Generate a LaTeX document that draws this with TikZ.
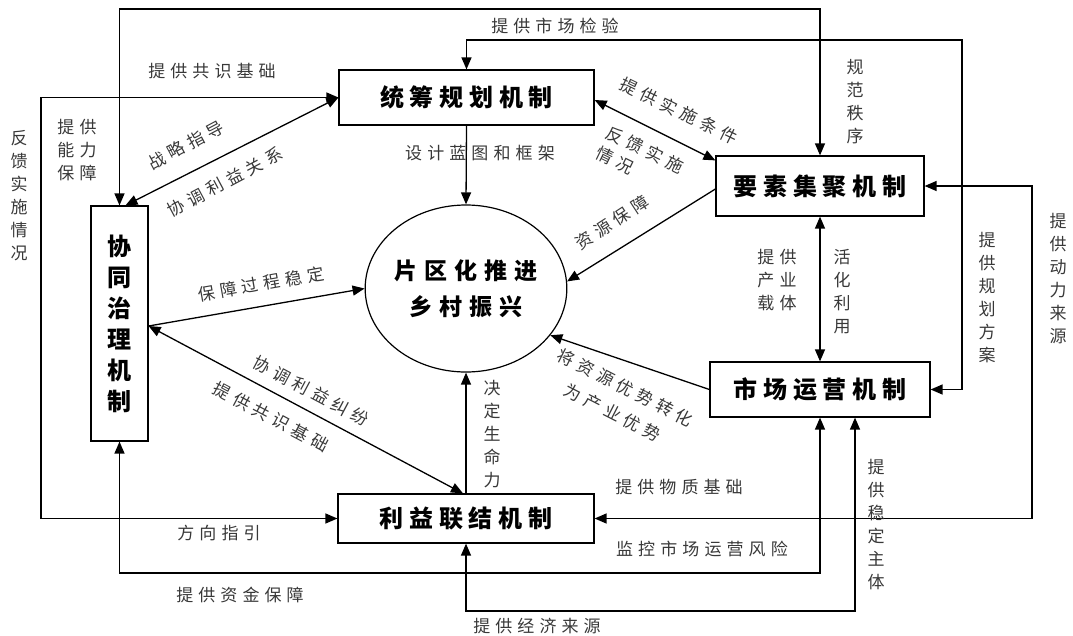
\documentclass[tikz,border=0pt]{standalone}
\usepackage{fontspec}
\usetikzlibrary{arrows.meta,shapes.geometric,calc}
\newfontfamily\lblfont[LetterSpace=30]{Noto Sans CJK SC}
\newfontfamily\boxfontfam[LetterSpace=24]{Noto Sans CJK SC}
\newfontfamily\cirfontfam[LetterSpace=30]{Noto Sans CJK SC}
\newfontfamily\vfont{Noto Sans CJK SC}
\begin{document}
\begin{tikzpicture}[x=1pt,y=-1pt,
  mech/.style={draw, line width=1.2pt, inner sep=0pt, font=\boxfontfam\bfseries\fontsize{24}{30}\selectfont},
  lbl/.style={inner sep=0pt, text=black!78, font=\lblfont\fontsize{17}{23}\selectfont},
  vlbl/.style={inner sep=0pt, text=black!78, align=center, font=\vfont\fontsize{17}{23}\selectfont},
  con/.style={line width=1.3pt},
  arr/.style={con, -{Triangle[length=12pt,width=10pt]}},
  bi/.style={con, {Triangle[length=12pt,width=10pt]}-{Triangle[length=12pt,width=10pt]}},
]
\useasboundingbox (0,0) rectangle (1073,635);

% mechanisms
\node[mech, minimum width=255pt, minimum height=55pt] (tc) at (466.5,97.5) {统筹规划机制};
\node[mech, minimum width=208pt, minimum height=60pt] (ys) at (820,186) {要素集聚机制};
\node[mech, minimum width=220pt, minimum height=55pt] (sc) at (820,389.5) {市场运营机制};
\node[mech, minimum width=256pt, minimum height=49pt] (lj) at (466,518.5) {利益联结机制};
\node[draw, line width=1.2pt, inner sep=0pt, minimum width=57pt, minimum height=235pt, align=center,
      font=\vfont\bfseries\fontsize{24}{31}\selectfont] (xt) at (119.5,323.5) {协\\同\\治\\理\\机\\制};
\node[ellipse, draw, line width=1.2pt, inner sep=0pt, minimum width=198pt, minimum height=167pt, align=center,
      font=\cirfontfam\bfseries\fontsize{23}{36}\selectfont] (cir) at (466,288.5) {片区化推进\\乡村振兴};

% outer loops
\draw[bi] (xt.north) |- (ys.north |- 0,9) -- (ys.north);
\draw[bi] (tc.north) |- (962,40) |- (sc.east);
\draw[bi] (tc.west) -| (41,300) |- (lj.west);
\draw[bi] (xt.south) |- (sc.south |- 0,573) -- (sc.south);
\coordinate (sb) at ($(sc.south)+(35,0)$);
\draw[bi] (lj.south) |- (sb |- 0,611) -- (sb);
\draw[bi] (ys.east) -| (1032,400) |- (lj.east);

% inner connectors
\draw[arr] (tc.south) -- (cir.north);
\draw[arr] (lj.north) -- (cir.south);
\draw[bi] ($(xt.north)+(6,0)$) -- (tc.west);
\draw[bi] ($(tc.east)+(0,2.5)$) -- ($(ys.north west)+(0,5)$);
\draw[arr] ($(ys.west)+(0,3)$) -- (cir.4);
\draw[bi] (ys.south) -- (sc.north);
\draw[arr] (sc.west) -- (cir.-29);
\coordinate (xr) at ($(xt.east)+(0,2.5)$);
\draw[arr] (xr) -- (cir.west);
\draw[bi] (xr) -- ($(lj.north)+(-3,0)$);

% labels
\node[lbl] (l1) at (555,26) {提供市场检验};
\node[lbl] (l2) at (212,71) {提供共识基础};
\node[vlbl] (l3) at (855,101.5) {规\\范\\秩\\序};
\node[lbl, align=center] (l4) at (77,150) {提供\\能力\\保障};
\node[vlbl] (l5) at (19,195.5) {反\\馈\\实\\施\\情\\况};
\node[lbl, rotate=28] (l6) at (186,145) {战略指导};
\node[lbl, rotate=28] (l7) at (225,182) {协调利益关系};
\node[lbl] (l8) at (480,153) {设计蓝图和框架};
\node[lbl, rotate=-26] (l9) at (679,111) {提供实施条件};
\node[lbl, rotate=-26, align=left] (l10) at (640,160) {反馈实施\\情况};
\node[lbl, rotate=33] (l11) at (612,222) {资源保障};
\node[lbl, align=center] (l12) at (777,280) {提供\\产业\\载体};
\node[vlbl] (l13) at (842,291.5) {活\\化\\利\\用};
\node[vlbl] (l14) at (987,298) {提\\供\\规\\划\\方\\案};
\node[vlbl] (l15) at (1058,278.5) {提\\供\\动\\力\\来\\源};
\node[lbl, rotate=10] (l16) at (261,284) {保障过程稳定};
\node[lbl, rotate=-28] (l17) at (311,391) {协调利益纠纷};
\node[lbl, rotate=-28] (l18) at (271,417) {提供共识基础};
\node[lbl, rotate=-27, align=center, font=\lblfont\fontsize{17}{28}\selectfont] (l19) at (619,400) {将资源优势转化\\为产业优势};
\node[vlbl] (l20) at (492,434.5) {决\\定\\生\\命\\力};
\node[lbl] (l21) at (679,487) {提供物质基础};
\node[lbl] (l22) at (702,549) {监控市场运营风险};
\node[lbl] (l23) at (219,533) {方向指引};
\node[lbl] (l24) at (240,595) {提供资金保障};
\node[lbl] (l25) at (537,626) {提供经济来源};
\node[vlbl] (l26) at (876,524.5) {提\\供\\稳\\定\\主\\体};
\end{tikzpicture}
\end{document}
